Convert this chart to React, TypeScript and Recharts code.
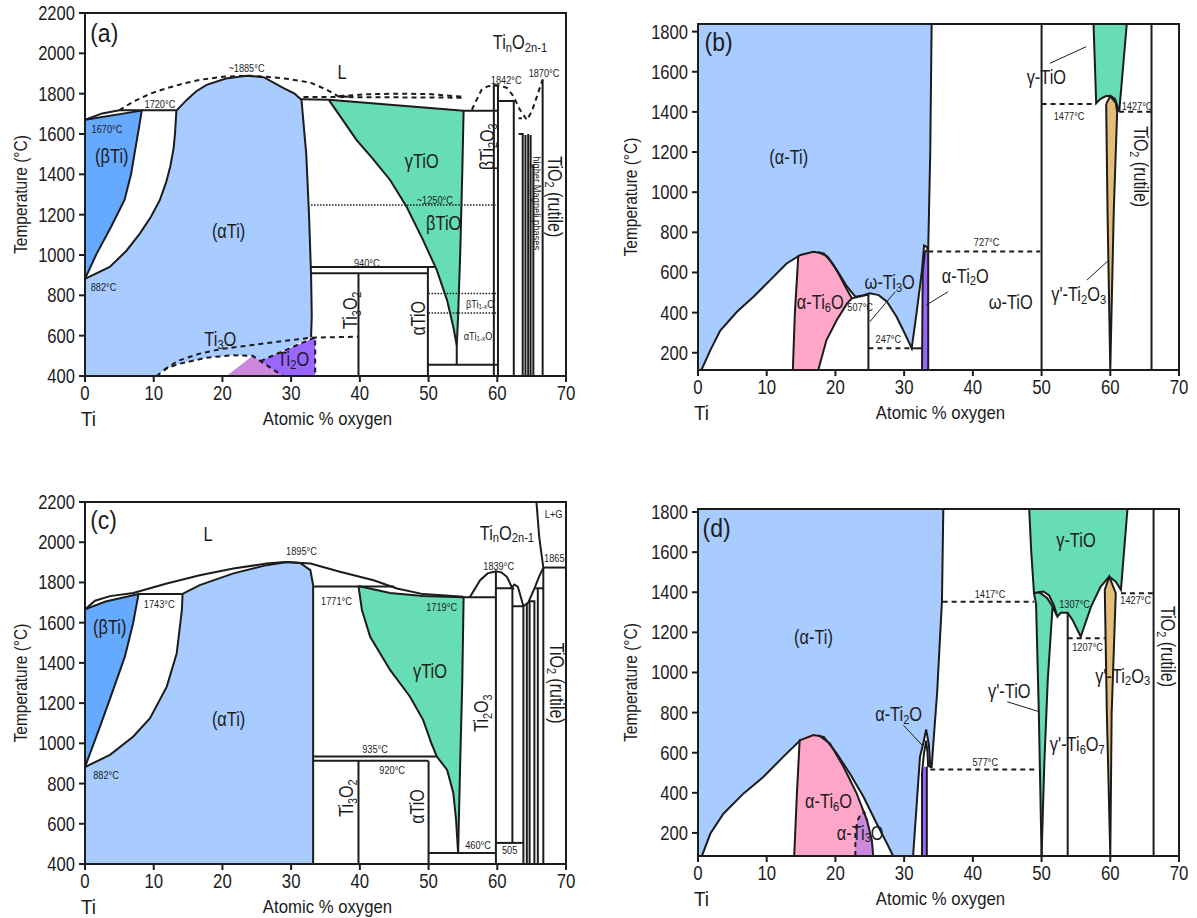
import React from 'react';
import { Area, ComposedChart, Line, ReferenceArea, Scatter, XAxis, YAxis } from 'recharts';

type P = [number, number];
type Tag = [number, number, string, string];

const FONT = "'Liberation Sans', Arial, sans-serif";
const INK = '#1c1c1c';
const COL = {
  alpha: '#a8ccff',
  beta: '#66aaff',
  gamma: '#66ddb4',
  ti2o: '#9966ff',
  lilac: '#cc88dd',
  pink: '#ffa6c9',
  tan: '#e2be78',
  white: '#ffffff',
};

const xTicks = [0, 10, 20, 30, 40, 50, 60, 70];
const yTicksHigh = [400, 600, 800, 1000, 1200, 1400, 1600, 1800, 2000, 2200];
const yTicksLow = [200, 400, 600, 800, 1000, 1200, 1400, 1600, 1800];

// ---------- (a) ----------
const aBetaTi: P[] = [[0, 882], [1.7, 1007], [3.8, 1140], [5.75, 1273], [6.7, 1400], [7.3, 1521], [7.9, 1640], [8.25, 1716], [0, 1670]];
const aAlphaTi: P[] = [[0, 400], [0, 882], [3.6, 941], [6, 1020], [8, 1107], [9.6, 1190], [10.9, 1273], [11.8, 1360], [12.4, 1438], [12.9, 1530], [13.1, 1604], [13.3, 1716], [14.8, 1769], [16.2, 1812], [17.7, 1844], [20.5, 1875], [23.5, 1889], [26, 1882], [28.9, 1828], [30.5, 1800], [31.5, 1770], [32.2, 1500], [32.6, 1200], [32.9, 900], [33.0, 700], [32.9, 592], [25.5, 474], [24.4, 500], [21.6, 503], [17.7, 491], [13.8, 461], [12, 440], [10.4, 400]];
const aTi2O: P[] = [[25.5, 474], [33.5, 592], [33.5, 400], [28.8, 400]];
const aTi3OLow: P[] = [[20.6, 400], [24.4, 500], [28.8, 400]];
const aGammaTiO: P[] = [[35.5, 1768], [55.1, 1715], [54.9, 1400], [54.6, 1000], [54.3, 700], [54.1, 552], [53.6, 643], [52.7, 775], [51.2, 925], [49.2, 1074], [46.8, 1239], [44.4, 1372], [41.8, 1480], [39.5, 1571], [37.5, 1670]];

const aSolid: P[][] = [
  [[0, 882], [1.7, 1007], [3.8, 1140], [5.75, 1273], [6.7, 1400], [7.3, 1521], [7.9, 1640], [8.25, 1716], [0, 1670]],
  [[0, 882], [3.6, 941], [6, 1020], [8, 1107], [9.6, 1190], [10.9, 1273], [11.8, 1360], [12.4, 1438], [12.9, 1530], [13.1, 1604], [13.3, 1716], [14.8, 1769], [16.2, 1812], [17.7, 1844], [20.5, 1875], [23.5, 1889], [26, 1882], [28.9, 1828], [30.5, 1800], [31.5, 1770], [32.2, 1500], [32.6, 1200], [32.9, 900], [33.0, 700], [32.9, 592]],
  [[0, 1670], [2.5, 1702], [5, 1718], [13.3, 1718]],
  [[31.5, 1772], [35.5, 1770], [55.1, 1715], [60, 1715]],
  [[35.5, 1768], [37.5, 1670], [39.5, 1571], [41.8, 1480], [44.4, 1372], [46.8, 1239], [49.2, 1074], [51.2, 925], [52.7, 775], [53.6, 643], [54.1, 552], [54.1, 456]],
  [[55.1, 1715], [54.9, 1400], [54.6, 1000], [54.3, 700], [54.1, 552]],
  [[32.9, 940], [50.9, 940]],
  [[33.0, 910], [49.9, 910]],
  [[39.8, 910], [39.8, 400]],
  [[49.9, 940], [49.9, 400]],
  [[49.9, 456], [60, 456]],
  [[59.5, 400], [59.5, 1842], [60.1, 1842], [60.1, 400]],
  [[60.1, 1764], [62.4, 1764], [62.4, 400]],
  [[63.1, 1678], [63.6, 1678]],
  [[63.1, 1600], [63.7, 1600], [63.7, 400]],
  [[64.1, 1595], [64.1, 400]],
  [[64.5, 1600], [64.5, 400]],
  [[64.85, 1595], [64.85, 400]],
  [[65.25, 1450], [65.25, 400]],
  [[66.6, 1870], [66.6, 400]],
];
const aDashed: P[][] = [
  [[5, 1718], [7, 1760], [9.5, 1800], [11.9, 1827], [14.5, 1852], [16.8, 1869], [20, 1884], [24, 1889], [27, 1882], [29.8, 1872], [32.8, 1855], [35.2, 1819], [36.9, 1786], [39, 1784]],
  [[31.8, 1784], [55.3, 1780]],
  [[37, 1788], [41, 1797], [45, 1800], [50, 1798], [55.3, 1784]],
  [[56.3, 1720], [57, 1770], [57.7, 1819], [58.5, 1835], [59.4, 1842], [60.4, 1838], [61.4, 1829], [62.3, 1790], [63.3, 1720], [64.3, 1670], [65, 1710], [65.6, 1769], [66.1, 1820], [66.6, 1870]],
  [[11.5, 430], [13.5, 475], [16.7, 511], [20, 535], [24, 552], [28, 570], [32.9, 590], [39.8, 595]],
  [[10.4, 400], [12, 440], [13.8, 461], [17.7, 491], [21.6, 503], [24.4, 500], [28.8, 400]],
  [[25.5, 474], [33.5, 592], [33.5, 400]],
];
const aDotted: P[][] = [
  [[32.9, 1248], [60, 1248]],
  [[50, 809], [60, 809]],
  [[50, 713], [60, 713]],
];
const aTags: Tag[] = [
  [2.8, 2104, '(a)', 'panel'],
  [23.5, 1927, '~1885°C', 'small'],
  [10.9, 1753, '1720°C', 'small'],
  [3.2, 1629, '1670°C', 'small'],
  [3.9, 1496, '(βTi)', 'big'],
  [20.9, 1124, '(αTi)', 'big'],
  [2.7, 842, '882°C', 'small'],
  [19.7, 585, 'Ti_{3}O', 'big'],
  [30.3, 486, 'Ti_{2}O', 'big'],
  [37.4, 1910, 'L', 'big'],
  [63.3, 2058, 'Ti_{n}O_{2n-1}', 'big'],
  [61.3, 1868, '1842°C', 'small'],
  [66.8, 1905, '1870°C', 'small'],
  [49.0, 1471, 'γTiO', 'big'],
  [50.9, 1277, '~1250°C', 'small'],
  [52.2, 1160, 'βTiO', 'big'],
  [41.0, 963, '940°C', 'small'],
  [38.6, 726, 'Ti_{3}O_{2}', 'up'],
  [48.5, 686, 'αTiO', 'up'],
  [57.5, 760, 'βTi_{1-x}O', 'small'],
  [57.2, 602, 'αTi_{1-x}O', 'small'],
  [58.5, 1537, 'βTi_{2}O_{3}', 'up'],
  [68.4, 1289, 'TiO_{2} (rutile)', 'down'],
  [65.8, 1257, 'higher Magneli phases', 'downSmall'],
];

// ---------- (b) ----------
const bAlphaTi: P[] = [[0, 1838], [34.0, 1838], [33.8, 1200], [33.5, 712], [33.3, 727], [32.9, 735], [32.6, 612], [31.8, 396], [31.1, 222], [30.1, 296], [28.9, 379], [27.5, 454], [26.3, 487], [25, 496], [24.1, 487], [22.9, 479], [21.7, 529], [20.2, 612], [19.2, 660], [18.3, 695], [16.8, 703], [14.9, 687], [12.9, 645], [10.5, 562], [8.08, 479], [5.67, 404], [3.24, 311], [1.8, 213], [0.5, 114], [0, 114]];
const bTi6O: P[] = [[13.8, 114], [14.1, 400], [14.6, 687], [16.8, 703], [17.5, 702], [18.8, 680], [19.7, 640], [20.7, 579], [21.7, 512], [22.4, 471], [21.7, 446], [20.2, 363], [18.7, 263], [17.5, 114]];
const bTi2O: P[] = [[32.6, 114], [32.7, 600], [33.0, 700], [33.3, 712], [33.5, 700], [33.5, 114]];
const bGammaTiO: P[] = [[57.56, 1838], [62.4, 1838], [61.3, 1401], [60.7, 1465], [60, 1480], [59.3, 1478], [58.6, 1465], [57.95, 1443]];
const bTi2O3: P[] = [[59.4, 1440], [60, 1478], [60.8, 1445], [61.0, 1400], [60.5, 900], [60, 114], [59.6, 900]];
const bSolid: P[][] = [
  [[0.5, 114], [1.8, 213], [3.24, 311], [5.67, 404], [8.08, 479], [10.5, 562], [12.9, 645], [14.9, 687], [16.8, 703], [18.3, 695], [19.2, 660], [20.2, 612], [21.7, 529], [22.9, 479], [24.1, 487], [25, 496], [26.3, 487], [27.5, 454], [28.9, 379], [30.1, 296], [31.1, 222], [31.8, 396], [32.6, 612], [32.9, 735], [33.3, 727], [33.5, 712], [33.8, 1200], [34.0, 1838]],
  [[13.8, 114], [14.1, 400], [14.6, 687]],
  [[17.5, 702], [18.8, 680], [19.7, 640], [20.7, 579], [21.7, 512], [22.4, 471]],
  [[17.5, 114], [18.7, 263], [20.2, 363], [21.7, 446], [22.4, 471], [24.8, 490], [24.8, 114]],
  [[31.1, 222], [32.6, 222]],
  [[32.6, 114], [32.7, 600], [33.0, 700], [33.3, 712]],
  [[33.5, 712], [33.5, 114]],
  [[50, 114], [50, 1838]],
  [[57.56, 1838], [57.95, 1443], [58.6, 1465], [59.3, 1478], [60, 1480], [60.7, 1465], [61.3, 1401], [62.4, 1838]],
  [[59.4, 1440], [60, 1478], [60.8, 1445], [61.0, 1400], [60.5, 900], [60, 114], [59.6, 900], [59.4, 1440]],
  [[66, 114], [66, 1838]],
];
const bDashed: P[][] = [
  [[24.8, 222], [31.1, 222]],
  [[33.5, 705], [49.8, 705]],
  [[50, 1440], [57.95, 1440]],
  [[61.3, 1401], [66, 1401]],
];
const bLeaders: P[][] = [
  [[28.7, 504], [25.0, 354]],
  [[36.4, 504], [33.2, 437]],
  [[51.2, 1642], [56.5, 1725]],
  [[56.6, 562], [59.8, 662]],
];
const bTags: Tag[] = [
  [3.0, 1750, '(b)', 'panel'],
  [13.2, 1177, '(α-Ti)', 'big'],
  [17.8, 454, 'α-Ti_{6}O', 'big'],
  [23.6, 429, '507°C', 'small'],
  [27.9, 554, 'ω-Ti_{3}O', 'big'],
  [27.7, 272, '247°C', 'small'],
  [38.9, 587, 'α-Ti_{2}O', 'big'],
  [42.0, 753, '727°C', 'small'],
  [45.5, 454, 'ω-TiO', 'big'],
  [50.7, 1576, 'γ-TiO', 'big'],
  [54.0, 1380, '1477°C', 'small'],
  [63.9, 1430, '1427°C', 'small'],
  [64.4, 1127, 'TiO_{2} (rutile)', 'down'],
  [55.4, 496, "γ'-Ti_{2}O_{3}", 'big'],
];

// ---------- (c) ----------
const cBetaTi: P[] = [[0, 882], [2.18, 1083], [4.1, 1266], [5.8, 1431], [7.0, 1597], [7.8, 1743], [3, 1705], [0, 1666]];
const cAlphaTi: P[] = [[0, 400], [0, 882], [3.64, 943], [7.03, 1034], [9.46, 1125], [11.9, 1282], [13.35, 1448], [14.1, 1663], [14.2, 1743], [16.7, 1787], [21.6, 1845], [26.4, 1886], [29.4, 1902], [31.3, 1897], [32.8, 1861], [33.2, 1787], [33.2, 400]];
const cGammaTiO: P[] = [[39.8, 1782], [44.4, 1748], [49.2, 1732], [55.1, 1726], [54.9, 1300], [54.6, 900], [54.3, 455], [54.0, 620], [53.6, 753], [52.7, 868], [51.2, 934], [50.4, 1001], [49.2, 1117], [47.3, 1232], [44.4, 1365], [41.5, 1530], [40.3, 1663]];
const cSolid: P[][] = [
  [[0, 882], [2.18, 1083], [4.1, 1266], [5.8, 1431], [7.0, 1597], [7.8, 1743]],
  [[0, 1666], [3, 1705], [7.8, 1743], [14.2, 1743]],
  [[0, 882], [3.64, 943], [7.03, 1034], [9.46, 1125], [11.9, 1282], [13.35, 1448], [14.1, 1663], [14.2, 1743], [16.7, 1787], [21.6, 1845], [26.4, 1886], [29.4, 1902], [31.3, 1897], [32.8, 1861], [33.2, 1787], [33.2, 400]],
  [[0, 1666], [1.46, 1709], [3.64, 1732], [7.03, 1748], [11.9, 1795], [16.7, 1836], [21.6, 1869], [26.4, 1894], [29.1, 1902], [32.8, 1894], [37.1, 1853], [42.0, 1811], [45.4, 1770], [49.2, 1742], [55.1, 1729]],
  [[33.2, 1780], [45, 1780]],
  [[39.8, 1782], [44.4, 1748], [49.2, 1732], [55.1, 1726], [59.8, 1726]],
  [[39.8, 1782], [40.3, 1663], [41.5, 1530], [44.4, 1365], [47.3, 1232], [49.2, 1117], [50.4, 1001], [51.2, 934], [52.7, 868], [53.6, 753], [54.0, 620], [54.3, 455]],
  [[55.1, 1726], [54.9, 1300], [54.6, 900], [54.3, 455]],
  [[33.2, 934], [51.2, 934]],
  [[33.2, 913], [50.0, 913]],
  [[39.8, 913], [39.8, 400]],
  [[50, 913], [50, 400]],
  [[50, 455], [59.8, 455]],
  [[56.0, 1726], [57.5, 1811], [58.6, 1845], [59.8, 1856], [60.6, 1850], [61.4, 1828], [62.1, 1778], [62.4, 1765]],
  [[59.8, 1856], [59.8, 400]],
  [[59.8, 1771], [62.2, 1771], [62.2, 505]],
  [[62.0, 1771], [62.5, 1790], [63.0, 1778], [63.4, 1730], [63.8, 1682]],
  [[59.8, 505], [63.8, 505]],
  [[62.2, 1682], [63.8, 1682], [63.8, 400]],
  [[63.8, 1682], [64.5, 1700], [65.5, 1778], [66.1, 1830], [66.7, 1874]],
  [[64.3, 1695], [64.3, 400]],
  [[64.7, 1707], [64.7, 400]],
  [[64.7, 1707], [65.4, 1707], [65.4, 400]],
  [[65.4, 1771], [66.7, 1771]],
  [[65.9, 1771], [65.9, 400]],
  [[66.7, 1874], [66.7, 400]],
  [[66.7, 1874], [70, 1874]],
  [[65.7, 2200], [66.1, 2026], [66.7, 1874]],
];
const cTags: Tag[] = [
  [2.7, 2112, '(c)', 'panel'],
  [17.9, 2043, 'L', 'big'],
  [31.5, 1960, '1895°C', 'small'],
  [10.8, 1696, '1743°C', 'small'],
  [3.6, 1580, '(βTi)', 'big'],
  [20.9, 1125, '(αTi)', 'big'],
  [3.06, 844, '882°C', 'small'],
  [36.6, 1712, '1771°C', 'small'],
  [51.9, 1682, '1719°C', 'small'],
  [61.4, 2051, 'Ti_{n}O_{2n-1}', 'big'],
  [68.2, 2142, 'L+G', 'small'],
  [68.3, 1924, '1865', 'small'],
  [60.2, 1886, '1839°C', 'small'],
  [50.2, 1365, 'γTiO', 'big'],
  [57.7, 1150, 'Ti_{2}O_{3}', 'up'],
  [68.7, 1299, 'TiO_{2} (rutile)', 'down'],
  [42.2, 976, '935°C', 'small'],
  [44.7, 868, '920°C', 'small'],
  [38.1, 728, 'Ti_{3}O_{2}', 'up'],
  [48.3, 686, 'αTiO', 'up'],
  [57.2, 496, '460°C', 'small'],
  [61.8, 471, '505', 'small'],
];

// ---------- (d) ----------
const dAlphaTi: P[] = [[0, 1815], [35.7, 1815], [35.5, 1353], [34.8, 900], [34.0, 529], [33.8, 529], [33.6, 640], [33.2, 716], [32.8, 650], [32.3, 579], [31.8, 330], [31.3, 85], [28.4, 85], [27.5, 147], [26.0, 247], [24.1, 379], [22.1, 496], [20.2, 596], [18.3, 679], [16.8, 688], [14.9, 663], [12.4, 579], [9.5, 479], [6.6, 396], [3.7, 296], [1.8, 197], [0.6, 88], [0, 85]];
const dTi6O: P[] = [[14.0, 85], [14.4, 400], [14.8, 666], [15.8, 685], [16.8, 690], [17.5, 688], [19.2, 646], [21.2, 529], [23.1, 396], [24.6, 263], [25.3, 163], [25.5, 85]];
const dTi3O: P[] = [[22.9, 85], [22.9, 200], [23.2, 260], [23.7, 295], [24.2, 304], [24.6, 263], [25.3, 163], [25.5, 85]];
const dTi2O: P[] = [[32.6, 88], [32.6, 500], [32.9, 530], [33.3, 530], [33.3, 88]];
const dGammaTiO: P[] = [[48.2, 1815], [62.5, 1815], [61.55, 1412], [60.8, 1453], [59.85, 1478], [58.6, 1428], [57.2, 1328], [55.7, 1179], [54.5, 1262], [53.8, 1298], [52.8, 1298], [52.3, 1278], [51.6, 1329], [50.9, 962], [50.4, 546], [50.0, 88], [49.6, 800], [49.2, 1340], [48.9, 1395]];
const dLens: P[] = [[49.5, 1400], [50.3, 1404], [51.1, 1384], [51.8, 1335], [52.2, 1285], [51.6, 1329], [50.8, 1372], [50.0, 1392]];
const dTi2O3: P[] = [[59.2, 1412], [59.85, 1478], [60.8, 1395], [60.2, 796], [60, 88], [59.5, 796]];
const dSolid: P[][] = [
  [[0.6, 88], [1.8, 197], [3.7, 296], [6.6, 396], [9.5, 479], [12.4, 579], [14.9, 663], [16.8, 688], [18.3, 679], [20.2, 596], [22.1, 496], [24.1, 379], [26.0, 247], [27.5, 147], [28.4, 85]],
  [[14.0, 85], [14.4, 400], [14.8, 666]],
  [[17.5, 688], [19.2, 646], [21.2, 529], [23.1, 396], [24.6, 263], [25.3, 163], [25.5, 85]],
  [[31.3, 85], [31.8, 330], [32.3, 579], [32.8, 650], [33.2, 716], [33.6, 640], [33.8, 529], [34.0, 529], [34.8, 900], [35.5, 1353], [35.7, 1815]],
  [[32.6, 88], [32.6, 500], [32.9, 600], [33.2, 660], [33.4, 600], [33.5, 529]],
  [[33.3, 88], [33.3, 530]],
  [[48.2, 1815], [48.5, 1600], [48.9, 1395], [49.5, 1400], [50.3, 1404], [51.1, 1384], [51.8, 1335], [52.3, 1278], [52.8, 1298], [53.8, 1298], [54.5, 1262], [55.7, 1179], [57.2, 1328], [58.6, 1428], [59.85, 1478], [60.8, 1453], [61.55, 1412], [62.5, 1815]],
  [[48.9, 1395], [49.2, 1340], [49.6, 800], [50.0, 88]],
  [[52.2, 1285], [51.6, 1329], [50.9, 962], [50.4, 546], [50.0, 88]],
  [[51.6, 1329], [50.8, 1372], [50.0, 1392], [49.5, 1400]],
  [[53.8, 1298], [53.8, 88]],
  [[59.2, 1412], [59.85, 1478], [60.8, 1395], [60.2, 796], [60, 88], [59.5, 796], [59.2, 1412]],
  [[66.3, 85], [66.3, 1815]],
];
const dDashed: P[][] = [
  [[35.6, 1353], [48.9, 1353]],
  [[33.8, 516], [49.4, 516]],
  [[53.8, 1171], [59.2, 1171]],
  [[61.55, 1395], [66.3, 1395]],
  [[22.9, 85], [22.9, 200], [23.2, 260], [23.7, 295], [24.2, 304], [24.6, 263]],
];
const dLeaders: P[][] = [
  [[45.0, 854], [49.7, 804]],
  [[29.9, 737], [32.6, 638]],
];
const dTags: Tag[] = [
  [2.7, 1720, '(d)', 'panel'],
  [16.8, 1179, '(α-Ti)', 'big'],
  [19.0, 363, 'α-Ti_{6}O', 'big'],
  [23.6, 205, 'α-Ti_{3}O', 'big'],
  [29.2, 796, 'α-Ti_{2}O', 'big'],
  [42.5, 1395, '1417°C', 'small'],
  [41.8, 558, '577°C', 'small'],
  [55.0, 1662, 'γ-TiO', 'big'],
  [54.8, 1345, '1307°C', 'small'],
  [56.7, 1129, '1207°C', 'small'],
  [63.7, 1362, '1427°C', 'small'],
  [68.3, 1129, 'TiO_{2} (rutile)', 'down'],
  [45.3, 912, "γ'-TiO", 'big'],
  [55.2, 646, "γ'-Ti_{6}O_{7}", 'big'],
  [61.8, 987, "γ'-Ti_{2}O_{3}", 'big'],
];

// ---------- rendering ----------
// the source figure uses a condensed face; squeeze the glyphs horizontally to match
const TAG_STYLE: Record<string, { size: number; rot: number; sx: number }> = {
  panel: { size: 25, rot: 0, sx: 0.92 },
  big: { size: 20, rot: 0, sx: 0.82 },
  small: { size: 11.5, rot: 0, sx: 0.8 },
  up: { size: 20, rot: -90, sx: 0.8 },
  down: { size: 20, rot: 90, sx: 0.8 },
  downSmall: { size: 11, rot: 90, sx: 0.85 },
};

function rich(text: string, size: number) {
  const out: React.ReactNode[] = [];
  const re = /_\{([^}]*)\}/g;
  const shift = size * 0.3;
  let last = 0;
  let k = 0;
  let low = false;
  let m: RegExpExecArray | null;
  while ((m = re.exec(text))) {
    if (m.index > last) {
      out.push(<tspan key={k++} dy={low ? -shift : undefined}>{text.slice(last, m.index)}</tspan>);
      low = false;
    }
    out.push(<tspan key={k++} dy={low ? undefined : shift} fontSize={size * 0.68}>{m[1]}</tspan>);
    low = true;
    last = re.lastIndex;
  }
  if (last < text.length) out.push(<tspan key={k++} dy={low ? -shift : undefined}>{text.slice(last)}</tspan>);
  return out;
}

const drawTag = (p: any) => {
  const { cx, cy, payload } = p;
  const st = TAG_STYLE[payload.k];
  const tf = `translate(${cx} ${cy})${st.rot ? ` rotate(${st.rot})` : ''} scale(${st.sx} 1)`;
  return (
    <text x={0} y={0} textAnchor="middle" dominantBaseline="central" fontSize={st.size} fill={INK}
      fontFamily={FONT} transform={tf}>
      {rich(payload.t, st.size)}
    </text>
  );
};

const XTick = (p: any) => (
  <text transform={`translate(${p.x} ${p.y}) scale(0.84 1)`} textAnchor="middle" dy="0.71em"
    fontSize={20} fill={INK} fontFamily={FONT}>{p.payload.value}</text>
);
const YTick = (p: any) => (
  <text transform={`translate(${p.x} ${p.y}) scale(0.85 1)`} textAnchor="end" dy="0.36em"
    fontSize={19.5} fill={INK} fontFamily={FONT}>{p.payload.value}</text>
);

const rows = (pts: P[]) => pts.map(([x, y]) => ({ x, y }));
const closed = (pts: P[]) => rows([...pts, pts[0]]);

type Fill = { pts: P[]; color: string };
type PanelProps = {
  left: number; top: number; width: number; height: number;
  plotLeft: number; plotRight: number; plotTop: number; plotBottom: number;
  yDomain: [number, number]; yTicks: number[];
  fills: Fill[]; solid: P[][]; dashed: P[][]; dotted?: P[][]; leaders?: P[][]; tags: Tag[];
};

function Panel(pp: PanelProps) {
  const margin = {
    top: pp.plotTop - pp.top,
    right: pp.left + pp.width - pp.plotRight,
    bottom: pp.top + pp.height - pp.plotBottom - 50,
    left: 0,
  };
  const tagRows = pp.tags.map(([x, y, t, k]) => ({ x, y, t, k }));
  return (
    <div style={{ position: 'absolute', left: pp.left, top: pp.top }}>
      <ComposedChart width={pp.width} height={pp.height} margin={margin}>
        <XAxis type="number" dataKey="x" domain={[0, 70]} ticks={xTicks} allowDataOverflow height={50}
          tickSize={6} tickMargin={4} stroke={INK} strokeWidth={2} tick={<XTick />}
          label={{
            content: (lp: any) => {
              const vb = lp.viewBox;
              const mx = vb.x + vb.width / 2 + 2;
              return (
                <g fontFamily={FONT} fill={INK}>
                  <text transform={`translate(${vb.x - 4} ${vb.y + 50}) scale(0.9 1)`} fontSize={21}>Ti</text>
                  <text transform={`translate(${mx} ${vb.y + 49}) scale(0.93 1)`} fontSize={18} textAnchor="middle">Atomic % oxygen</text>
                </g>
              );
            },
          }} />
        <YAxis type="number" domain={pp.yDomain} ticks={pp.yTicks} allowDataOverflow width={pp.plotLeft - pp.left}
          tickSize={6} tickMargin={4} stroke={INK} strokeWidth={2} tick={<YTick />}
          label={{
            content: (lp: any) => {
              const vb = lp.viewBox;
              const cx = vb.x + 21;
              const cy = vb.y + vb.height / 2;
              return (
                <text x={0} y={0} fontSize={18} fontFamily={FONT} fill={INK} textAnchor="middle"
                  dominantBaseline="central" transform={`translate(${cx} ${cy}) rotate(-90) scale(0.86 1)`}>Temperature (°C)</text>
              );
            },
          }} />
        {pp.fills.map((f, i) => (
          <Area key={`f${i}`} data={closed(f.pts)} dataKey="y" type="linear" fill={f.color} fillOpacity={1}
            stroke="none" dot={false} activeDot={false} isAnimationActive={false} />
        ))}
        {pp.solid.map((s, i) => (
          <Line key={`s${i}`} data={rows(s)} dataKey="y" type="linear" stroke={INK} strokeWidth={2}
            dot={false} activeDot={false} isAnimationActive={false} />
        ))}
        {pp.dashed.map((s, i) => (
          <Line key={`d${i}`} data={rows(s)} dataKey="y" type="linear" stroke={INK} strokeWidth={2}
            strokeDasharray="5 4" dot={false} activeDot={false} isAnimationActive={false} />
        ))}
        {(pp.dotted || []).map((s, i) => (
          <Line key={`o${i}`} data={rows(s)} dataKey="y" type="linear" stroke={INK} strokeWidth={1.5}
            strokeDasharray="1.5 1.5" dot={false} activeDot={false} isAnimationActive={false} />
        ))}
        {(pp.leaders || []).map((s, i) => (
          <Line key={`l${i}`} data={rows(s)} dataKey="y" type="linear" stroke={INK} strokeWidth={1}
            dot={false} activeDot={false} isAnimationActive={false} />
        ))}
        <Scatter data={tagRows} dataKey="y" shape={drawTag} isAnimationActive={false} />
        <ReferenceArea x1={0} x2={70} y1={pp.yDomain[0]} y2={pp.yDomain[1]} fill="none" stroke={INK} strokeWidth={2} />
      </ComposedChart>
    </div>
  );
}

export default function App() {
  return (
    <div style={{ position: 'absolute', left: 0, top: 0, width: 1197, height: 918, background: '#fff' }}>
      <Panel left={0} top={0} width={600} height={440} plotLeft={85} plotRight={566} plotTop={13} plotBottom={376}
        yDomain={[400, 2200]} yTicks={yTicksHigh}
        fills={[
          { pts: aAlphaTi, color: COL.alpha },
          { pts: aBetaTi, color: COL.beta },
          { pts: aTi3OLow, color: COL.lilac },
          { pts: aTi2O, color: COL.ti2o },
          { pts: aGammaTiO, color: COL.gamma },
        ]}
        solid={aSolid} dashed={aDashed} dotted={aDotted} tags={aTags} />
      <Panel left={610} top={0} width={587} height={440} plotLeft={698} plotRight={1179} plotTop={24} plotBottom={370}
        yDomain={[114, 1838]} yTicks={yTicksLow}
        fills={[
          { pts: bAlphaTi, color: COL.alpha },
          { pts: bTi6O, color: COL.pink },
          { pts: bTi2O, color: COL.ti2o },
          { pts: bGammaTiO, color: COL.gamma },
          { pts: bTi2O3, color: COL.tan },
        ]}
        solid={bSolid} dashed={bDashed} leaders={bLeaders} tags={bTags} />
      <Panel left={0} top={460} width={600} height={460} plotLeft={85} plotRight={566} plotTop={502} plotBottom={864}
        yDomain={[400, 2200]} yTicks={yTicksHigh}
        fills={[
          { pts: cAlphaTi, color: COL.alpha },
          { pts: cBetaTi, color: COL.beta },
          { pts: cGammaTiO, color: COL.gamma },
        ]}
        solid={cSolid} dashed={[]} tags={cTags} />
      <Panel left={610} top={460} width={587} height={458} plotLeft={698} plotRight={1179} plotTop={509} plotBottom={856}
        yDomain={[85, 1815]} yTicks={yTicksLow}
        fills={[
          { pts: dAlphaTi, color: COL.alpha },
          { pts: dTi6O, color: COL.pink },
          { pts: dTi3O, color: COL.lilac },
          { pts: dTi2O, color: COL.ti2o },
          { pts: dGammaTiO, color: COL.gamma },
          { pts: dLens, color: COL.white },
          { pts: dTi2O3, color: COL.tan },
        ]}
        solid={dSolid} dashed={dDashed} leaders={dLeaders} tags={dTags} />
    </div>
  );
}
